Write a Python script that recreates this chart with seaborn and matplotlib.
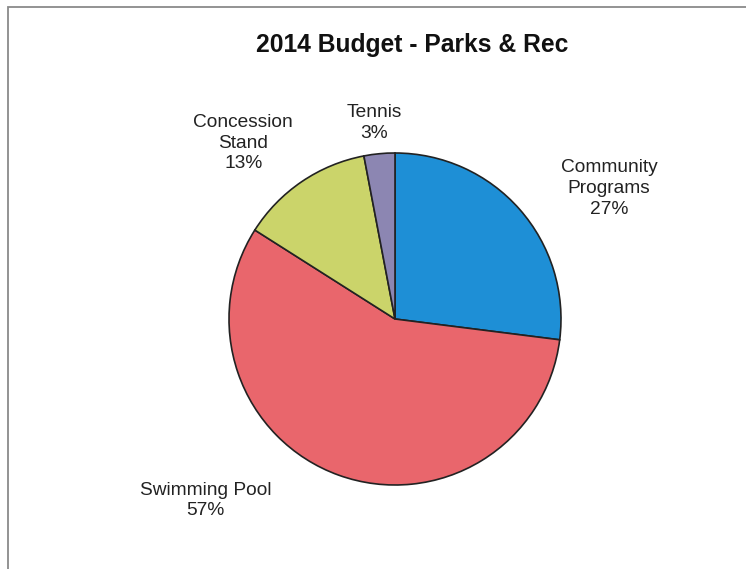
import numpy as np
import matplotlib
matplotlib.use("Agg")
import matplotlib.pyplot as plt
import seaborn as sns
from matplotlib.patches import Rectangle

# Budget shares (percent), drawn clockwise from 12 o'clock
categories = ["Community\nPrograms", "Swimming Pool", "Concession\nStand", "Tennis"]
shares = [27, 57, 13, 3]
colors = ["#1E8FD6", "#E9666C", "#CBD46A", "#8C86B2"]

# label placement: (angle in degrees, distance in radii) around the pie centre
label_angles = [31.3, 223.8, 130.8, 96.1]
label_dists = [1.51, 1.58, 1.40, 1.19]

sns.set_theme(style="white")
plt.rcParams["font.family"] = ["Liberation Sans", "DejaVu Sans"]

W, H = 746, 569
fig = plt.figure(figsize=(W / 100, H / 100), dpi=100)
fig.patch.set_facecolor("white")

cx, cy, r = 395, 319, 166
ax = fig.add_axes([(cx - r) / W, (H - cy - r) / H, 2 * r / W, 2 * r / H])
ax.pie(shares, colors=colors, startangle=90, counterclock=False,
       wedgeprops=dict(edgecolor="#222222", linewidth=1.2))
ax.set_xlim(-1, 1)
ax.set_ylim(-1, 1)
ax.set_aspect("equal")
ax.axis("off")

for name, val, ang, d in zip(categories, shares, label_angles, label_dists):
    a = np.deg2rad(ang)
    ax.text(d * np.cos(a), d * np.sin(a), f"{name}\n{val}%",
            ha="center", va="center", fontsize=13.8, color="#222222",
            linespacing=1.3, clip_on=False)

fig.text(412 / W, 1 - 45 / H, "2014 Budget - Parks & Rec", ha="center", va="center",
         fontsize=17.7, fontweight="bold", color="#111111")

# chart frame
fig.patches.append(Rectangle((8 / W, -0.05), 1.1, 1 - 7 / H + 0.05,
                             transform=fig.transFigure, fill=False,
                             edgecolor="#8a8a8a", linewidth=1.3))

fig.savefig("out.png", dpi=100, facecolor="white")
